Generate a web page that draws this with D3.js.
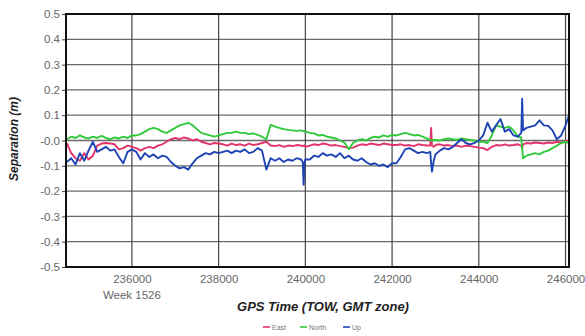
<!DOCTYPE html>
<html>
<head>
<meta charset="utf-8">
<script src="https://cdn.jsdelivr.net/npm/d3@7"></script>
<style>
  body { margin: 0; background: #fff; }
  svg { display: block; font-family: Arial, "Liberation Sans", sans-serif; }
</style>
</head>
<body>
<div id="chart"></div>
<script>
// GPS separation plot, East / North / Up vs time of week

// time of week (s), extra points where the spikes are
const tow = [
  234500, 234600, 234700, 234800, 234900, 235000, 235100, 235200, 235300, 235400, 235500, 235600, 235700, 235800, 235900, 236000,
  236100, 236200, 236300, 236400, 236500, 236600, 236700, 236800, 236900, 237000, 237100, 237200, 237300, 237400, 237500, 237600, 237700, 237800, 237900, 238000,
  238100, 238200, 238300, 238400, 238500, 238600, 238700, 238800, 238900, 239000, 239100, 239200, 239300, 239400, 239500, 239600, 239700, 239800, 239900, 239940, 239960, 239980, 240000,
  240100, 240200, 240300, 240400, 240500, 240600, 240700, 240800, 240900, 241000, 241100, 241200, 241300, 241400, 241500, 241600, 241700, 241800, 241900, 242000,
  242100, 242200, 242300, 242400, 242500, 242600, 242700, 242800, 242880, 242900, 242920, 242960, 243000, 243100, 243200, 243300, 243400, 243500, 243600, 243700, 243800, 243900, 244000,
  244100, 244200, 244300, 244400, 244500, 244600, 244700, 244800, 244900, 244980, 245000, 245020, 245100, 245200, 245300, 245400, 245500, 245600, 245700, 245800, 245900, 246000, 246080
];

const east = [
  -0.01, -0.05, -0.07, -0.08, -0.05, -0.075, -0.06, -0.02, -0.012, -0.01, -0.012, -0.015, -0.035, -0.03, -0.02, -0.025,
  -0.03, -0.04, -0.03, -0.025, -0.03, -0.02, -0.015, -0.005, 0.005, 0.01, 0.005, 0.012, 0.008, 0.0, 0.005, -0.005, -0.01, -0.015, -0.01, -0.012,
  -0.015, -0.02, -0.012, -0.018, -0.015, -0.02, -0.012, -0.018, -0.015, -0.01, -0.005, -0.02, -0.022, -0.018, -0.025, -0.02, -0.022, -0.018, -0.02, -0.022, -0.02, -0.02, -0.025,
  -0.02, -0.015, -0.018, -0.012, -0.015, -0.02, -0.018, -0.022, -0.025, -0.03, -0.028, -0.02, -0.015, -0.018, -0.012, -0.015, -0.018, -0.012, -0.015, -0.018,
  -0.018, -0.015, -0.02, -0.018, -0.022, -0.015, -0.018, -0.02, -0.02, 0.05, -0.02, -0.025, -0.018, -0.015, -0.02, -0.018, -0.022, -0.02, -0.025, -0.02, -0.022, -0.025, -0.028,
  -0.03, -0.038, -0.025, -0.018, -0.02, -0.015, -0.02, -0.018, -0.015, -0.02, -0.03, -0.015, -0.01, -0.012, -0.008, -0.01, -0.012, -0.008, -0.01, -0.005, -0.008, -0.003, 0.0
];

const north = [
  0.005, 0.015, 0.01, 0.02, 0.012, 0.008, 0.015, 0.01, 0.018, 0.01, 0.005, 0.012, 0.008, 0.015, 0.01, 0.02,
  0.02, 0.025, 0.035, 0.045, 0.05, 0.045, 0.035, 0.03, 0.04, 0.05, 0.06, 0.065, 0.07, 0.06, 0.045, 0.03, 0.025, 0.02, 0.015, 0.02,
  0.025, 0.03, 0.03, 0.035, 0.03, 0.03, 0.025, 0.028, 0.022, 0.015, 0.005, 0.062, 0.055, 0.05, 0.045, 0.042, 0.04, 0.038, 0.04, 0.038, 0.036, 0.038, 0.035,
  0.03, 0.028, 0.02, 0.022, 0.015, 0.012, 0.008, 0.0, -0.008, -0.035, -0.01, 0.0, 0.005, 0.0, 0.01, 0.015, 0.012, 0.02, 0.015, 0.022,
  0.02, 0.025, 0.03, 0.025, 0.02, 0.022, 0.015, 0.008, 0.002, 0.0, 0.0, 0.002, 0.002, 0.0, 0.005, 0.008, 0.005, 0.003, 0.008, 0.005, 0.002, 0.0, -0.005,
  -0.005, -0.01, 0.02, 0.06, 0.055, 0.05, 0.055, 0.04, 0.015, 0.012, -0.03, -0.07, -0.06, -0.055, -0.05, -0.055, -0.045, -0.04, -0.03, -0.02, -0.01, -0.005, -0.01
];

const up = [
  -0.085, -0.07, -0.095, -0.05, -0.08, -0.04, -0.005, -0.045, -0.035, -0.025, -0.04, -0.035, -0.065, -0.09, -0.045, -0.035,
  -0.045, -0.075, -0.05, -0.065, -0.055, -0.07, -0.06, -0.065, -0.085, -0.1, -0.11, -0.105, -0.115, -0.09, -0.07, -0.06, -0.05, -0.055, -0.045, -0.05,
  -0.045, -0.04, -0.05, -0.04, -0.045, -0.035, -0.05, -0.045, -0.03, -0.04, -0.115, -0.07, -0.08, -0.07, -0.085, -0.075, -0.08, -0.07, -0.075, -0.085, -0.175, -0.09, -0.075,
  -0.075, -0.06, -0.065, -0.05, -0.06, -0.055, -0.065, -0.05, -0.07, -0.06, -0.075, -0.08, -0.07, -0.085, -0.095, -0.09, -0.1, -0.095, -0.105, -0.09,
  -0.09, -0.065, -0.035, -0.03, -0.04, -0.05, -0.045, -0.05, -0.045, -0.09, -0.123, -0.08, -0.055, -0.04, -0.03, -0.035, -0.025, -0.01, 0.005, -0.01, -0.015, -0.01, 0.0,
  0.02, 0.07, 0.035, 0.06, 0.085, 0.035, 0.045, 0.02, 0.015, 0.03, 0.165, 0.04, 0.05, 0.055, 0.06, 0.08, 0.06, 0.058, 0.04, 0.005, 0.02, 0.06, 0.1
];

const seriesNames = ["East", "North", "Up"];
const seriesColors = ["#e2336b", "#2fc93a", "#1e43b4"];
const xTicks = [236000, 238000, 240000, 242000, 244000, 246000];
const yTicks = [0.5, 0.4, 0.3, 0.2, 0.1, 0.0, -0.1, -0.2, -0.3, -0.4, -0.5];

const width = 585,
  height = 336,
  margin = { top: 14, right: 16, bottom: 69, left: 66 };

const svg = d3.select("#chart")
  .append("svg")
  .attr("width", width)
  .attr("height", height);

const x = d3.scaleLinear()
  .domain([234480, 246080])
  .range([margin.left, width - margin.right]);

const y = d3.scaleLinear()
  .domain([-0.5, 0.5])
  .range([height - margin.bottom, margin.top]);

// grid
svg.append("g")
  .selectAll("line")
  .data(yTicks)
  .join("line")
  .attr("x1", margin.left).attr("x2", width - margin.right)
  .attr("y1", d => y(d)).attr("y2", d => y(d))
  .attr("stroke", "#6a6a6a")
  .attr("stroke-width", 1.3);

svg.append("g")
  .selectAll("line")
  .data(xTicks)
  .join("line")
  .attr("x1", d => x(d)).attr("x2", d => x(d))
  .attr("y1", margin.top).attr("y2", height - margin.bottom)
  .attr("stroke", "#444")
  .attr("stroke-width", 1.2);

// y axis (ticks on the left)
const yAxis = svg.append("g")
  .attr("transform", `translate(${margin.left},0)`)
  .call(d3.axisLeft(y)
    .tickValues(yTicks)
    .tickSize(4)
    .tickPadding(2)
    .tickFormat(d => (d <= 0 ? "-" + Math.abs(d).toFixed(1) : d.toFixed(1))));
yAxis.select(".domain").remove();
yAxis.selectAll("line").attr("stroke", "#444");
yAxis.selectAll("text")
  .attr("fill", "#666")
  .style("font-size", "11.5px");

// x axis labels
const xAxis = svg.append("g")
  .attr("transform", `translate(0,${height - margin.bottom})`)
  .call(d3.axisBottom(x)
    .tickValues(xTicks)
    .tickSize(0)
    .tickPadding(8)
    .tickFormat(d3.format("d")));
xAxis.select(".domain").remove();
xAxis.selectAll("text")
  .attr("fill", "#666")
  .style("font-size", "11.5px");

svg.append("text")
  .attr("x", x(236000))
  .attr("y", 299)
  .attr("text-anchor", "middle")
  .attr("fill", "#666")
  .style("font-size", "11.5px")
  .text("Week 1526");

// series lines
const lineData = [east, north, up];
const line = d3.line()
  .x((d, i) => x(tow[i]))
  .y(d => y(d));

svg.append("g")
  .selectAll("path")
  .data(lineData)
  .join("path")
  .attr("d", line)
  .attr("fill", "none")
  .attr("stroke", (d, i) => seriesColors[i])
  .attr("stroke-width", 1.9)
  .attr("stroke-linejoin", "round");

// plot border
svg.append("rect")
  .attr("x", margin.left)
  .attr("y", margin.top)
  .attr("width", width - margin.left - margin.right)
  .attr("height", height - margin.top - margin.bottom)
  .attr("fill", "none")
  .attr("stroke", "#111")
  .attr("stroke-width", 2);

// axis titles
svg.append("text")
  .attr("x", 323)
  .attr("y", 311)
  .attr("text-anchor", "middle")
  .attr("fill", "#222")
  .style("font-size", "13px")
  .style("font-weight", "bold")
  .style("font-style", "italic")
  .text("GPS Time (TOW, GMT zone)");

svg.append("text")
  .attr("transform", "translate(18,139) rotate(-90)")
  .attr("text-anchor", "middle")
  .attr("fill", "#222")
  .style("font-size", "12px")
  .style("font-weight", "bold")
  .style("font-style", "italic")
  .text("Separation (m)");

// legend
const legendX = [263, 300, 343];
const legend = svg.append("g")
  .selectAll("g")
  .data(seriesNames)
  .join("g")
  .attr("transform", (d, i) => `translate(${legendX[i]},327)`);

legend.append("line")
  .attr("x1", 0).attr("x2", 7)
  .attr("stroke", (d, i) => seriesColors[i])
  .attr("stroke-width", 1.6);

legend.append("text")
  .attr("x", 9)
  .attr("y", 2.5)
  .attr("fill", "#777")
  .style("font-size", "7px")
  .text(d => d);
</script>
</body>
</html>
